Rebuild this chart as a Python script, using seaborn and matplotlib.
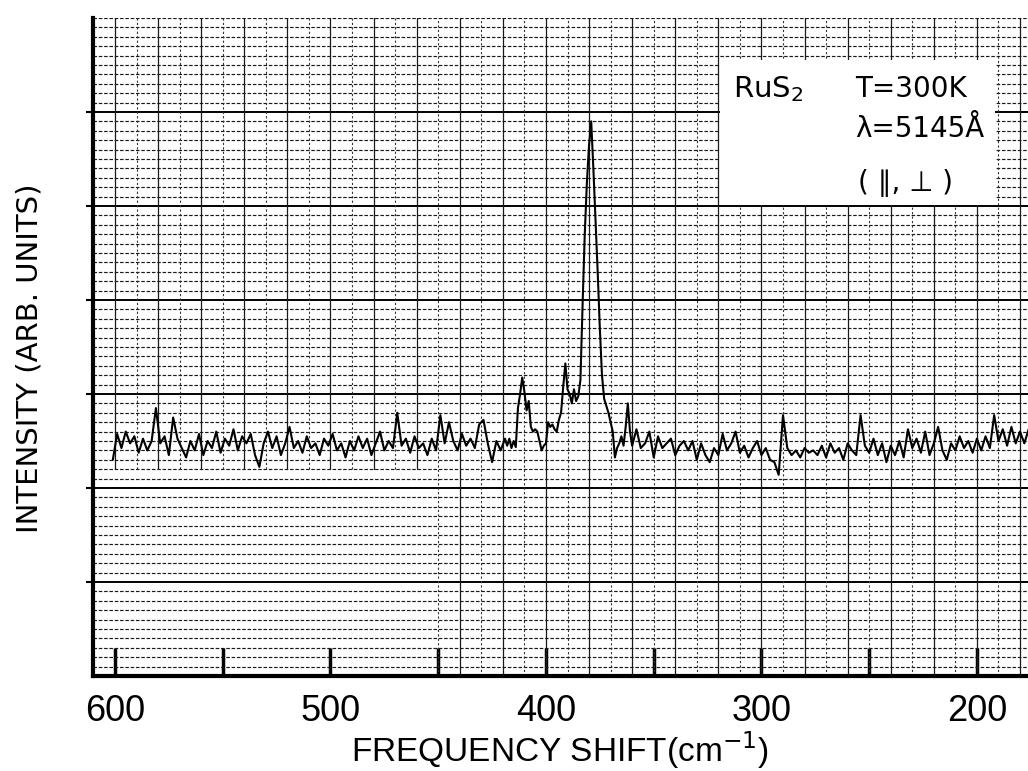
import numpy as np
import pandas as pd
import matplotlib
matplotlib.use("Agg")
import matplotlib.pyplot as plt
import seaborn as sns
from matplotlib.ticker import MultipleLocator, NullFormatter
from matplotlib.patches import Rectangle

# RuS2 Raman spectrum
# intensity in chart units (one heavy grid division = 1)

# 601 -> 419 cm-1, every 2 cm-1
int_left = [4.60, 5.15, 4.85, 5.20, 4.95, 5.10, 4.75, 5.05, 4.80, 5.00,
            5.70, 4.95, 5.10, 4.70, 5.50, 5.05, 4.85, 4.65, 5.00, 4.80,
            5.15, 4.70, 5.00, 4.85, 5.20, 4.75, 5.05, 4.90, 5.25, 4.80,
            5.10, 4.95, 5.15, 4.70, 4.45, 4.95, 5.20, 4.85, 5.10, 4.70,
            4.95, 5.30, 4.85, 5.00, 4.75, 5.10, 4.85, 4.95, 4.70, 5.05,
            4.90, 5.15, 4.80, 4.95, 4.65, 5.00, 4.80, 5.10, 4.85, 5.05,
            4.70, 4.95, 5.20, 4.80, 5.00, 4.85, 5.60, 4.90, 5.05, 4.75,
            5.10, 4.85, 4.95, 4.70, 5.05, 4.80, 5.55, 4.95, 5.40, 5.00,
            4.80, 5.15, 4.90, 5.05, 4.85, 5.35, 5.45, 4.95, 4.55, 5.00,
            4.80, 5.05]

# 418 -> 361 cm-1, every 1 cm-1 (phonon lines at ~411, ~391 and ~379)
int_peak = [4.90, 5.05, 4.85, 5.00, 4.87, 5.70, 6.00, 6.35, 6.05, 5.65,
            5.85, 5.30, 5.20, 5.25, 5.20, 5.00, 4.80, 4.90, 4.95, 5.40,
            5.30, 5.35, 5.25, 5.20, 5.45, 5.60, 6.15, 6.65, 6.10, 6.00,
            5.80, 6.10, 5.85, 5.95, 6.30, 7.90, 9.40, 10.50, 11.30, 11.80,
            10.80, 9.70, 8.60, 7.40, 6.40, 5.90, 5.75, 5.60, 5.40, 5.20,
            4.65, 4.85, 4.95, 5.10, 4.90, 5.30, 5.80, 5.20]

# 360 -> 176 cm-1, every 2 cm-1
int_right = [4.90, 5.25, 4.85, 4.95, 5.20, 4.65, 5.10, 4.85, 4.95, 5.05,
             4.70, 4.90, 5.00, 4.80, 5.00, 4.60, 4.95, 4.70, 4.55, 4.85,
             4.70, 5.15, 4.80, 4.95, 5.20, 4.75, 4.90, 4.65, 4.85, 5.00,
             4.70, 4.85, 4.60, 4.55, 4.28, 5.55, 4.85, 4.70, 4.80, 4.65,
             4.85, 4.75, 4.80, 4.70, 4.90, 4.65, 4.95, 4.75, 4.85, 4.60,
             4.95, 4.80, 4.70, 5.55, 4.90, 4.75, 5.05, 4.70, 4.95, 4.55,
             4.90, 4.70, 5.00, 4.65, 5.25, 4.85, 5.05, 4.75, 5.20, 4.70,
             4.95, 5.30, 4.80, 4.60, 4.95, 4.80, 5.10, 4.85, 5.00, 4.75,
             5.05, 4.80, 5.10, 4.85, 5.55, 5.00, 5.25, 4.90, 5.30, 4.95,
             5.20, 4.95, 5.25]

shift_left = np.linspace(601, 419, len(int_left))
shift_peak = np.linspace(418, 361, len(int_peak))
shift_right = np.linspace(360, 176, len(int_right))

x_ticks = [600, 500, 400, 300, 200]
x_tick_labels = ["600", "500", "400", "300", "200"]

df = pd.DataFrame({
    "shift": np.concatenate([shift_left, shift_peak, shift_right]),
    "intensity": np.concatenate([int_left, int_peak, int_right]),
})

sns.set_theme(style="white")
plt.rcParams["font.family"] = ["DejaVu Sans"]
plt.rcParams["text.color"] = "black"
label_font = ["Liberation Sans", "DejaVu Sans"]

fig = plt.figure(figsize=(10.28, 7.71), dpi=100)
ax = fig.add_axes([93 / 1028, 95 / 771, 935 / 1028, 658 / 771])

sns.lineplot(data=df, x="shift", y="intensity", estimator=None, sort=False,
             color="black", linewidth=1.5, ax=ax, zorder=3)

ax.set_xlim(610.2, 176.3)
ax.set_ylim(0, 14)

# chart paper: horizontal rulings
ax.yaxis.set_major_locator(MultipleLocator(1))
ax.yaxis.set_minor_locator(MultipleLocator(0.2))
ax.grid(True, which="major", axis="y", color="black", linewidth=1.4, zorder=0.5)
ax.grid(True, which="minor", axis="y", color="0.1", linewidth=0.85,
        linestyle=(0, (3, 1.5)), zorder=0.5)

# chart paper: vertical rulings (missing in lower left part of the sheet)
for v in np.arange(180, 611, 10):
    lo = 4.4 / 14 if v > 450 else 0
    if v % 20 == 0:
        ax.axvline(v, ymin=lo, ymax=1, color="0.1", linewidth=0.9, zorder=0.6)
    else:
        ax.axvline(v, ymin=lo, ymax=1, color="0.2", linewidth=0.8,
                   linestyle=(0, (2, 2)), zorder=0.6)

# y axis: only short marks on the left rail
ax.set_yticks([2, 4, 6, 8, 10, 12])
ax.yaxis.set_major_formatter(NullFormatter())
ax.tick_params(axis="y", which="major", direction="out", length=5, width=1.5,
               left=True, colors="black")
ax.tick_params(axis="y", which="minor", left=False)

ax.set_xticks(x_ticks)
ax.set_xticklabels(x_tick_labels)
ax.xaxis.set_minor_locator(MultipleLocator(50))
ax.tick_params(axis="x", which="both", direction="in", length=20, width=2.5,
               bottom=True, colors="black", pad=13)
for lab in ax.get_xticklabels():
    lab.set_fontfamily(label_font)
    lab.set_fontsize(26)

for side in ["top", "right"]:
    ax.spines[side].set_visible(False)
for side in ["left", "bottom"]:
    ax.spines[side].set_visible(True)
    ax.spines[side].set_color("black")
    ax.spines[side].set_linewidth(3)

ax.set_xlabel("")
ax.set_ylabel("")
fig.text(560 / 1028, (771 - 750) / 771, "FREQUENCY SHIFT(cm$^{-1}$)",
         ha="center", va="center", fontsize=24, family=label_font)
fig.text(30 / 1028, (771 - 358) / 771, "INTENSITY (ARB. UNITS)",
         ha="center", va="center", rotation=90, fontsize=21)

# label box
ax.add_patch(Rectangle((0.6706, 0.716), 0.294, 0.220, transform=ax.transAxes,
                       facecolor="white", edgecolor="none", zorder=2))
ax.text(0.6845, 0.880, "RuS$_2$", transform=ax.transAxes, fontsize=21,
        va="baseline", zorder=4)
ax.text(0.815, 0.880, "T=300K", transform=ax.transAxes, fontsize=20,
        va="baseline", zorder=4)
ax.text(0.815, 0.819, "λ=5145Å", transform=ax.transAxes, fontsize=20,
        va="baseline", zorder=4)
ax.text(0.818, 0.737, "( ∥, ⊥ )", transform=ax.transAxes, fontsize=20,
        va="baseline", zorder=4)

fig.savefig("out.png", dpi=100, facecolor="white")
